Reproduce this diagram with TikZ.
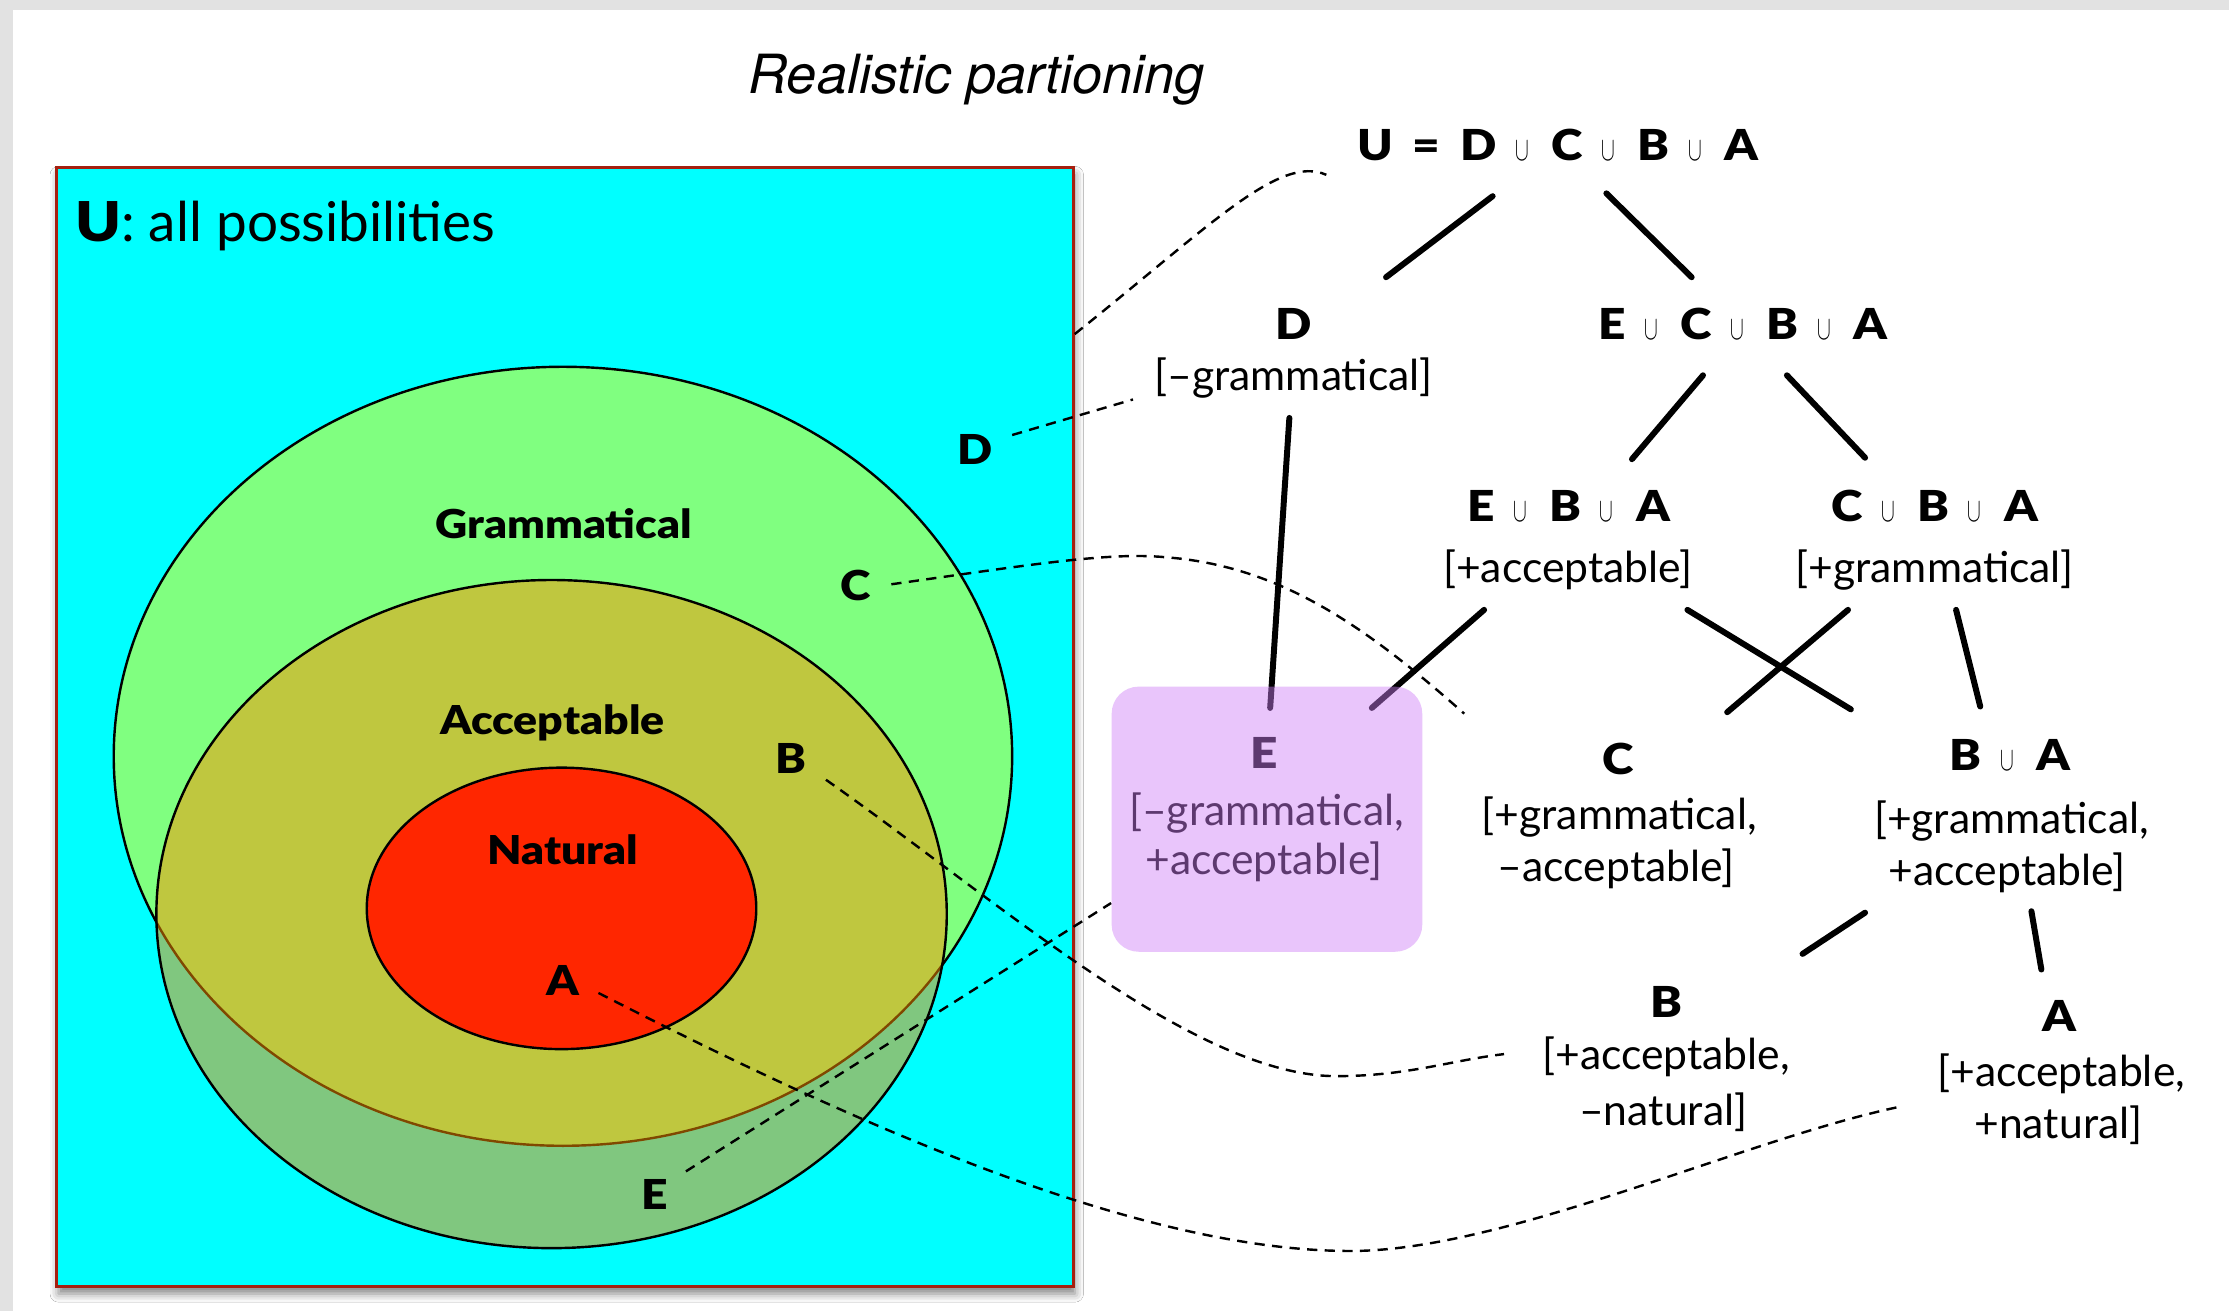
\documentclass[tikz,border=0pt]{standalone}
\usepackage{fontspec}
\setmainfont{Lato}
\newfontfamily\heavyfont{Lato Black}[FakeStretch=1.12]
\newfontfamily\titlefont{TeX Gyre Heros}
\usetikzlibrary{calc,fit,shadows.blur}

\definecolor{slidegray}{RGB}{226,226,226}
\definecolor{universe}{RGB}{0,255,255}
\definecolor{framered}{RGB}{165,32,16}
\definecolor{gramgreen}{RGB}{128,255,128}
\definecolor{accorange}{RGB}{255,145,0}
\definecolor{natred}{RGB}{255,38,0}
\definecolor{highlight}{RGB}{208,128,248}

% thin, narrow union sign placed between heavy set letters
\newcommand{\setcup}{\hspace{6.5pt}\scalebox{0.6}[1]{\fontsize{11.5}{11.5}\selectfont$\cup$}\hspace{8pt}}

\tikzset{
  region/.style={draw=black, line width=0.85pt},
  setword/.style={font=\heavyfont\fontsize{14}{14}\selectfont, inner sep=0pt, anchor=base},
  setletter/.style={font=\heavyfont\fontsize{14.5}{14.5}\selectfont, inner sep=0pt, anchor=base},
  head/.style={font=\heavyfont\fontsize{15}{15}\selectfont, inner sep=0pt, anchor=base},
  feature/.style={font=\fontsize{15}{15}\selectfont, inner sep=0pt, anchor=base},
  branch/.style={line width=2.1pt, line cap=round},
  link/.style={line width=0.85pt, dash pattern=on 3.6pt off 2.6pt},
}

\begin{document}
\begin{tikzpicture}[x=0.5pt,y=-0.5pt]
\useasboundingbox (0,0) rectangle (1568,922);
\fill[slidegray] (0,0) rectangle (1568,922);
\fill[white] (9,7) rectangle (1568,922);

\node[font=\titlefont\itshape\fontsize{19}{19}\selectfont, inner sep=0pt, anchor=base] (title) at (687,65.5) {Realistic partioning};

% the universe of possibilities
\node[fit={(40,118) (755,905)}, inner sep=0pt, draw=framered, line width=1pt, fill=universe,
      blur shadow={shadow xshift=0.6pt, shadow yshift=-2.5pt, shadow blur radius=3pt, shadow opacity=50}] (U) {};
\node[anchor=base west, inner sep=0pt, font=\fontsize{19.3}{19.3}\selectfont] (ulabel) at (52.5,170) {{\heavyfont U}: all possibilities};

% nested regions
\path[region, fill=gramgreen] (396,532) ellipse [x radius=316, y radius=274];
\fill[accorange, fill opacity=0.5] (388,643) ellipse [x radius=278, y radius=235];
\draw[region] (388,643) ellipse [x radius=278, y radius=235];
\path[region, fill=natred] (395,639) ellipse [x radius=137, y radius=99];

\node[setword] (gram) at (396.5,378.5) {Grammatical};
\node[setword] (acc) at (388.5,516.5) {Acceptable};
\node[setword] (nat) at (396,608) {Natural};
\node[setletter] (vD) at (686,327) {D};
\node[setletter] (vC) at (602,422.5) {C};
\node[setletter] (vB) at (556.5,544) {B};
\node[setletter] (vA) at (396,700.5) {A};
\node[setletter] (vE) at (460.5,851) {E};

% partition tree
\node[head] (root) at (1096,113) {U\hspace{7pt}=\hspace{7pt}D\setcup C\setcup B\setcup A};
\node[head] (hD) at (910,239) {D};
\node[feature] (fD) at (910,274.5) {[–grammatical]};
\node[head] (hECBA) at (1226,239) {E\setcup C\setcup B\setcup A};
\node[head] (hEBA) at (1103.5,367) {E\setcup B\setcup A};
\node[feature] (fEBA) at (1103,409.5) {[+acceptable]};
\node[head] (hCBA) at (1361,367) {C\setcup B\setcup A};
\node[feature] (fCBA) at (1361,409.5) {[+grammatical]};
\node[head] (hE) at (889,540.5) {E};
\node[feature] (fE1) at (891,581) {[–grammatical,};
\node[feature] (fE2) at (889,615) {+acceptable]};
\node[head] (hC) at (1138,544.5) {C};
\node[feature] (fC1) at (1139,583.5) {[+grammatical,};
\node[feature] (fC2) at (1137,620) {–acceptable]};
\node[head] (hBA) at (1414,542) {B\setcup A};
\node[feature] (fBA1) at (1415,586) {[+grammatical,};
\node[feature] (fBA2) at (1412,623) {+acceptable]};
\node[head] (hB) at (1172,716) {B};
\node[feature] (fB1) at (1172,752.5) {[+acceptable,};
\node[feature] (fB2) at (1170,791.5) {–natural]};
\node[head] (hA) at (1449,725.5) {A};
\node[feature] (fA1) at (1450,764.5) {[+acceptable,};
\node[feature] (fA2) at (1448,801) {+natural]};

\draw[branch] ($(root.base)+(-46,25)$) -- ($(hD.base)+(65,-44)$);
\draw[branch] ($(root.base)+(34,23)$) -- ($(hECBA.base)+(-36,-44)$);
\draw[branch] ($(hECBA.base)+(-28,25)$) -- ($(hEBA.base)+(44.5,-44)$);
\draw[branch] ($(hECBA.base)+(31,25)$) -- ($(hCBA.base)+(-49,-45)$);
\draw[branch] ($(fD.base)+(-3,19.5)$) -- ($(hE.base)+(4.5,-42.5)$);
\draw[branch] ($(fEBA.base)+(-59,19.5)$) -- ($(hE.base)+(76,-42.5)$);
\draw[branch] ($(fEBA.base)+(84,19.5)$) -- ($(hBA.base)+(-112,-43)$);
\draw[branch] ($(fCBA.base)+(-61,19.5)$) -- ($(hC.base)+(77,-43.5)$);
\draw[branch] ($(fCBA.base)+(15,19.5)$) -- ($(hBA.base)+(-21,-45)$);
\draw[branch] ($(fBA2.base)+(-100,19)$) -- ($(hB.base)+(96,-45)$);
\draw[branch] ($(fBA2.base)+(17,18)$) -- ($(hA.base)+(-13,-43.5)$);

% dashed links from the regions to the tree
\draw[link] ($(U.north east)+(0,118)$) .. controls (850,160) and (900,108) .. ($(root.base)+(-163,10)$);
\draw[link] ($(vD.base)+(26,-21)$) -- ($(fD.base)+(-113,6.5)$);
\draw[link] ($(vC.base)+(25,-11.5)$) .. controls (720,398) and (780,388) .. (820,392)
            .. controls (900,398) and (960,440) .. ($(hC.base)+(-108,-42.5)$);
\draw[link] ($(vB.base)+(24.5,4.5)$) .. controls (700,632) and (840,757) .. (940,757)
            .. controls (990,757) and (1020,746) .. ($(fB1.base)+(-114,-11)$);
\draw[link] ($(vA.base)+(25,-2)$) .. controls (600,790) and (800,880) .. (950,880)
            .. controls (1060,880) and (1230,800) .. ($(fA1.base)+(-111,13.5)$);

% translucent highlight over the E leaf
\node[fit={(782,483) (1000.5,669.5)}, inner sep=0pt, rounded corners=9.5pt, fill=highlight, fill opacity=0.45] (Ebox) {};
\draw[link] ($(vE.base)+(22,-27)$) -- ($(Ebox.west)+(0,59)$);
\end{tikzpicture}
\end{document}
